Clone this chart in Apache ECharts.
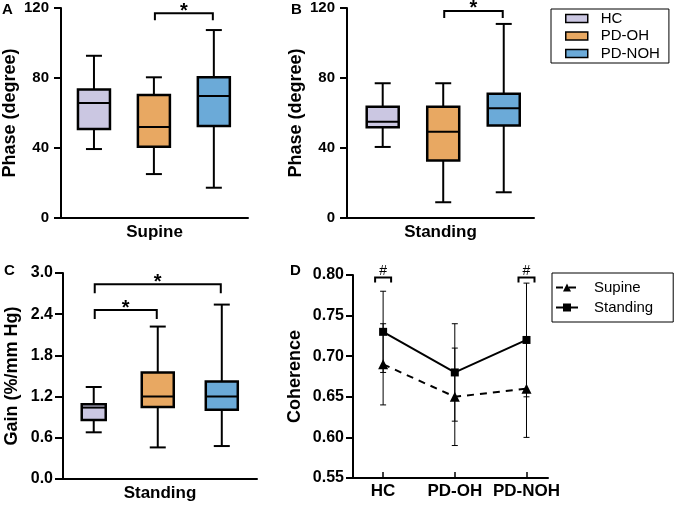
<!DOCTYPE html>
<html><head><meta charset="utf-8">
<script src="https://cdn.jsdelivr.net/npm/echarts@6/dist/echarts.min.js"></script>
<style>html,body{margin:0;padding:0;background:#fff}#c{width:675px;height:509px}</style>
</head><body><div id="c"></div>
<script>
// ---------- data ----------
const groups = ['HC', 'PD-OH', 'PD-NOH'];
const groupColors = ['#cbc7e2', '#e8a862', '#6baad8'];
// box plots: [min, Q1, median, Q3, max]
const phaseSupine   = [[39.4, 50.9, 65.7, 73.5, 92.7], [25.1, 40.7, 52.0, 70.3, 80.4], [17.3, 52.6, 69.7, 80.4, 107.4]];
const phaseStanding = [[40.6, 51.8, 55.0, 63.6, 77.0], [9.0, 32.8, 49.3, 63.6, 77.0], [14.7, 52.8, 62.7, 71.0, 110.9]];
const gainStanding  = [[0.68, 0.86, 1.04, 1.09, 1.34], [0.46, 1.05, 1.20, 1.55, 2.22], [0.48, 1.01, 1.20, 1.42, 2.54]];
// coherence mean and error
const coherenceSupine = [0.69, 0.65, 0.66];
const coherenceSupineErr = [0.05, 0.06, 0.06];
const coherenceStanding = [0.73, 0.68, 0.72];
const coherenceStandingErr = [0.05, 0.06, 0.07];
// tick labels
const phaseTicks = [0, 40, 80, 120];
const gainTicks = [0.0, 0.6, 1.2, 1.8, 2.4, 3.0];
const coherenceTicks = [0.55, 0.60, 0.65, 0.70, 0.75, 0.80];
// significance: [fromGroup, toGroup, level]
const sigA = [[2, 3, 117]];
const sigB = [[2, 3, 118.3]];
const sigC = [[1, 2, 2.46], [1, 3, 2.835]];
const sigD = [[1, 1, 0.797], [3, 3, 0.797]];
const sigAText = ['*'], sigBText = ['*'], sigCText = ['*', '*'], sigDText = ['#', '#'];

// ---------- helpers ----------
const FONT = '"Liberation Sans", Arial, sans-serif';
const black = '#000';

function boxRender(widths) {
  return function (params, api) {
    const x = api.value(0);
    const lo = api.coord([x, api.value(1)]), q1 = api.coord([x, api.value(2)]),
          md = api.coord([x, api.value(3)]), q3 = api.coord([x, api.value(4)]),
          hi = api.coord([x, api.value(5)]);
    const cx = lo[0], w = widths[x - 1], cap = 16;
    const ls = { stroke: black, lineWidth: 2 };
    return { type: 'group', children: [
      { type: 'line', shape: { x1: cx, y1: hi[1], x2: cx, y2: q3[1] }, style: ls },
      { type: 'line', shape: { x1: cx, y1: q1[1], x2: cx, y2: lo[1] }, style: ls },
      { type: 'line', shape: { x1: cx - cap / 2, y1: hi[1], x2: cx + cap / 2, y2: hi[1] }, style: ls },
      { type: 'line', shape: { x1: cx - cap / 2, y1: lo[1], x2: cx + cap / 2, y2: lo[1] }, style: ls },
      { type: 'rect', shape: { x: cx - w / 2, y: q3[1], width: w, height: q1[1] - q3[1] },
        style: { fill: api.visual('color'), stroke: black, lineWidth: 2.5 } },
      { type: 'line', shape: { x1: cx - w / 2, y1: md[1], x2: cx + w / 2, y2: md[1] }, style: ls }
    ] };
  };
}

function bracketRender(texts, leg, halfW, fontSize, bold, textDy) {
  return function (params, api) {
    const a = api.coord([api.value(0), api.value(2)]);
    const b = api.coord([api.value(1), api.value(2)]);
    let x1 = a[0] - halfW, x2 = b[0] + halfW, y = a[1];
    const ls = { stroke: black, lineWidth: 2, fill: null };
    return { type: 'group', children: [
      { type: 'polyline', shape: { points: [[x1, y + leg], [x1, y], [x2, y], [x2, y + leg]] }, style: ls },
      { type: 'text', x: (x1 + x2) / 2, y: y + textDy,
        style: { text: texts[params.dataIndex], fill: black, font: (bold ? 'bold ' : '') + fontSize + 'px ' + FONT,
                 align: 'center', verticalAlign: 'bottom' } }
    ] };
  };
}

function errRender(params, api) {
  const x = api.value(0);
  const lo = api.coord([x, api.value(1)]), hi = api.coord([x, api.value(2)]);
  const ls = { stroke: black, lineWidth: 1 };
  return { type: 'group', children: [
    { type: 'line', shape: { x1: lo[0], y1: lo[1], x2: hi[0], y2: hi[1] }, style: ls },
    { type: 'line', shape: { x1: lo[0] - 3, y1: lo[1], x2: lo[0] + 3, y2: lo[1] }, style: ls },
    { type: 'line', shape: { x1: hi[0] - 3, y1: hi[1], x2: hi[0] + 3, y2: hi[1] }, style: ls }
  ] };
}

function yAxis(gi, ticks, name, opts) {
  return {
    gridIndex: gi, type: 'value', min: ticks[0], max: ticks[ticks.length - 1],
    interval: +(ticks[1] - ticks[0]).toFixed(6),
    axisLine: { show: true, lineStyle: { color: black, width: 2 } },
    axisTick: { show: true, length: opts.tick, lineStyle: { color: black, width: 2 } },
    axisLabel: { fontSize: opts.fs, fontWeight: 'bold', color: black, fontFamily: FONT, margin: opts.margin,
                 formatter: v => v.toFixed(opts.dec) },
    splitLine: { show: false },
    name: name, nameLocation: 'middle', nameGap: opts.nameGap,
    nameTextStyle: { fontSize: 18, fontWeight: 'bold', color: black, fontFamily: FONT }
  };
}
function xAxisBox(gi, min, max, name) {
  return {
    gridIndex: gi, type: 'value', min: min, max: max,
    axisLine: { show: true, onZero: false, lineStyle: { color: black, width: 2 } },
    axisTick: { show: false }, axisLabel: { show: false }, splitLine: { show: false },
    name: name, nameLocation: 'middle', nameGap: 6,
    nameTextStyle: { fontSize: 17, fontWeight: 'bold', color: black, fontFamily: FONT, verticalAlign: 'top' }
  };
}

const series = [];
const panels = [
  { data: phaseSupine, gi: 0, widths: [32, 32, 32] },
  { data: phaseStanding, gi: 1, widths: [32, 32, 32] },
  { data: gainStanding, gi: 2, widths: [24, 32, 32] }
];
panels.forEach(p => {
  groups.forEach((g, i) => {
    series.push({
      type: 'custom', name: g, xAxisIndex: p.gi, yAxisIndex: p.gi,
      itemStyle: { color: groupColors[i] },
      renderItem: boxRender(p.widths),
      encode: { x: 0, y: [1, 2, 3, 4, 5] },
      data: [[i + 1].concat(p.data[i])], z: 3
    });
  });
});
series.push({ type: 'custom', xAxisIndex: 0, yAxisIndex: 0, renderItem: bracketRender(sigAText, 7, -1, 20, true, 8),
  encode: { x: [0, 1], y: 2 }, data: sigA, silent: true });
series.push({ type: 'custom', xAxisIndex: 1, yAxisIndex: 1, renderItem: bracketRender(sigBText, 7, -1, 20, true, 8),
  encode: { x: [0, 1], y: 2 }, data: sigB, silent: true });
series.push({ type: 'custom', xAxisIndex: 2, yAxisIndex: 2, renderItem: bracketRender(sigCText, 9, -1, 20, true, 8),
  encode: { x: [0, 1], y: 2 }, data: sigC, silent: true });
series.push({ type: 'custom', xAxisIndex: 3, yAxisIndex: 3, renderItem: bracketRender(sigDText, 5, 8, 14, false, 1),
  encode: { x: [0, 1], y: 2 }, data: sigD, silent: true });

// coherence panel
series.push({ type: 'custom', xAxisIndex: 3, yAxisIndex: 3, renderItem: errRender, encode: { x: 0, y: [1, 2] },
  data: coherenceSupine.map((v, i) => [i + 1, v - coherenceSupineErr[i], v + coherenceSupineErr[i]]), z: 2 });
series.push({ type: 'custom', xAxisIndex: 3, yAxisIndex: 3, renderItem: errRender, encode: { x: 0, y: [1, 2] },
  data: coherenceStanding.map((v, i) => [i + 1, v - coherenceStandingErr[i], v + coherenceStandingErr[i]]), z: 2 });
series.push({ type: 'line', name: 'Supine', xAxisIndex: 3, yAxisIndex: 3,
  data: coherenceSupine.map((v, i) => [i + 1, v]),
  symbol: 'triangle', symbolSize: 10, itemStyle: { color: black },
  lineStyle: { color: black, width: 2, type: [7, 6] }, z: 3 });
series.push({ type: 'line', name: 'Standing', xAxisIndex: 3, yAxisIndex: 3,
  data: coherenceStanding.map((v, i) => [i + 1, v]),
  symbol: 'rect', symbolSize: 8, itemStyle: { color: black },
  lineStyle: { color: black, width: 2 }, z: 3 });

const option = {
  animation: false,
  backgroundColor: '#fff',
  textStyle: { fontFamily: FONT },
  grid: [
    { left: 60, top: 8, width: 188, height: 210 },
    { left: 347, top: 8, width: 187, height: 210 },
    { left: 63, top: 273, width: 194, height: 206 },
    { left: 353, top: 275, width: 195, height: 203 }
  ],
  xAxis: [
    xAxisBox(0, 0.45, 3.57, 'Supine'),
    xAxisBox(1, 0.41, 3.5, 'Standing'),
    xAxisBox(2, 0.52, 3.55, 'Standing'),
    {
      gridIndex: 3, type: 'value', min: 0.58, max: 3.3,
      axisLine: { show: true, onZero: false, lineStyle: { color: black, width: 2 } },
      axisTick: { show: true, inside: true, length: 6, customValues: [1, 2, 3], lineStyle: { color: black, width: 1.5 } },
      axisLabel: { show: true, customValues: [1, 2, 3], formatter: v => groups[Math.round(v) - 1],
                   fontSize: 17, fontWeight: 'bold', color: black, fontFamily: FONT, margin: 5 },
      splitLine: { show: false }
    }
  ],
  yAxis: [
    yAxis(0, phaseTicks, 'Phase (degree)', { tick: 7, fs: 15, margin: 12, dec: 0, nameGap: 42 }),
    yAxis(1, phaseTicks, 'Phase (degree)', { tick: 7, fs: 15, margin: 12, dec: 0, nameGap: 42 }),
    yAxis(2, gainTicks, 'Gain (%/mm Hg)', { tick: 8, fs: 16, margin: 10, dec: 1, nameGap: 42 }),
    yAxis(3, coherenceTicks, 'Coherence', { tick: 7, fs: 16, margin: 9, dec: 2, nameGap: 49 })
  ],
  legend: [
    {
      data: groups, orient: 'vertical', left: 551, top: 9, selectedMode: false,
      borderColor: black, borderWidth: 1, padding: [2, 9, 2, 14], itemGap: 2.5,
      itemWidth: 22, itemHeight: 8, icon: 'rect',
      itemStyle: { borderColor: black, borderWidth: 1.5 },
      textStyle: { fontSize: 15, color: black, fontFamily: FONT, padding: [0, 0, 0, 8] }
    },
    {
      data: ['Supine', 'Standing'], orient: 'vertical', left: 552, top: 273, selectedMode: false,
      borderColor: black, borderWidth: 1, padding: [7, 20, 7, 3], itemGap: 5,
      itemWidth: 22, itemHeight: 10,
      textStyle: { fontSize: 15, color: black, fontFamily: FONT, padding: [0, 0, 0, 11] }
    }
  ],
  graphic: [
    { type: 'text', left: 2, top: 2, style: { text: 'A', font: 'bold 15px ' + FONT, fill: black } },
    { type: 'text', left: 291, top: 2, style: { text: 'B', font: 'bold 15px ' + FONT, fill: black } },
    { type: 'text', left: 4, top: 263, style: { text: 'C', font: 'bold 15px ' + FONT, fill: black } },
    { type: 'text', left: 290, top: 263, style: { text: 'D', font: 'bold 15px ' + FONT, fill: black } }
  ],
  series: series
};
const chart = echarts.init(document.getElementById('c'), null, { renderer: 'canvas' });
chart.setOption(option);
</script>
</body></html>
